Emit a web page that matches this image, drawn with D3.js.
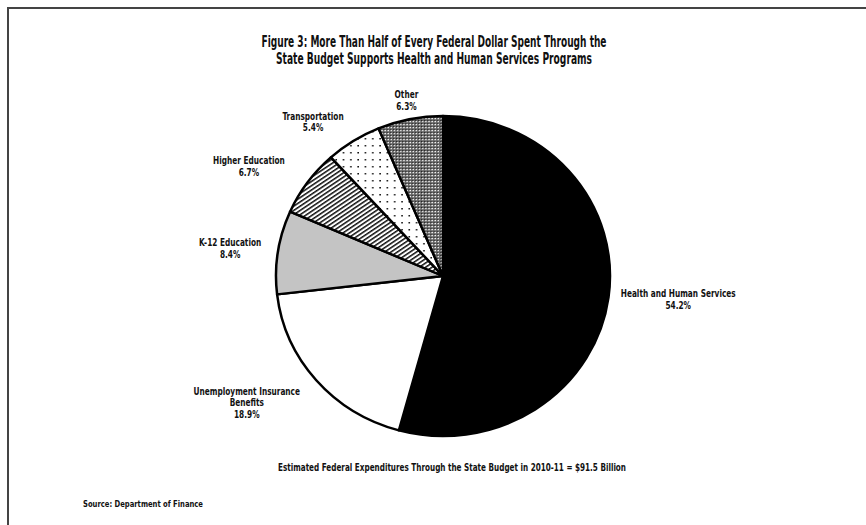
<!doctype html>
<head>
  <style>
    body {
      margin: 0;
      background: #fff;
    }
    svg text {
      font-family: "Liberation Sans Narrow", "DejaVu Sans Condensed", Arial, sans-serif;
      fill: #111;
    }
  </style>
<script src="https://cdnjs.cloudflare.com/ajax/libs/d3/7.8.5/d3.min.js"></script>
</head>
<body>
<script>

// values, clockwise from 12 o'clock
var categories = ["Health and Human Services", "Unemployment Insurance|Benefits", "K-12 Education",
                  "Higher Education", "Transportation", "Other"];
var shares = [54.2, 18.9, 8.4, 6.7, 5.4, 6.3];
var shareLabels = ["54.2%", "18.9%", "8.4%", "6.7%", "5.4%", "6.3%"];

var titleLines = ["Figure 3: More Than Half of Every Federal Dollar Spent Through the",
                  "State Budget Supports Health and Human Services Programs"];
var footNote = "Estimated Federal Expenditures Through the State Budget in 2010-11 = $91.5 Billion";
var sourceNote = "Source: Department of Finance";

var W = 866, H = 525;
var cx = 443, cy = 276, r = 160, stretch = 167 / 160;

var svg = d3.select("body").append("svg")
  .attr("width", W)
  .attr("height", H);

// squeeze text horizontally, the original uses a condensed face
function squeeze(sel, f) {
  sel.each(function() {
    var w = this.getComputedTextLength();
    d3.select(this)
      .attr("textLength", w * f)
      .attr("lengthAdjust", "spacingAndGlyphs");
  });
}

// patterns for the slices
var defs = svg.append("defs");

var hatch = defs.append("pattern")
  .attr("id", "hatch")
  .attr("patternUnits", "userSpaceOnUse")
  .attr("width", 3.5)
  .attr("height", 3.5)
  .attr("patternTransform", "rotate(-35)");
hatch.append("rect").attr("width", 3.5).attr("height", 3.5).attr("fill", "#fff");
hatch.append("rect").attr("width", 3.5).attr("height", 1.5).attr("fill", "#111");

var dots = defs.append("pattern")
  .attr("id", "dots")
  .attr("patternUnits", "userSpaceOnUse")
  .attr("width", 7)
  .attr("height", 7);
dots.append("rect").attr("width", 7).attr("height", 7).attr("fill", "#fff");
dots.append("rect").attr("x", 2).attr("y", 2).attr("width", 1.5).attr("height", 1.5).attr("fill", "#111");

var checker = defs.append("pattern")
  .attr("id", "checker")
  .attr("patternUnits", "userSpaceOnUse")
  .attr("width", 3)
  .attr("height", 3);
checker.append("rect").attr("width", 3).attr("height", 3).attr("fill", "#666");
checker.append("rect").attr("x", 1).attr("y", 1).attr("width", 1.2).attr("height", 1.2).attr("fill", "#fff");
checker.append("rect").attr("x", 0).attr("y", 0).attr("width", 1).attr("height", 1).attr("fill", "#222");

var fills = ["#000", "#fff", "#c4c4c4", "url(#hatch)", "url(#dots)", "url(#checker)"];

// frame
svg.append("path")
  .attr("d", "M8," + H + " L8,8 L" + W + ",8")
  .attr("fill", "none")
  .attr("stroke", "#444")
  .attr("stroke-width", 2);

// title
svg.selectAll(".title")
  .data(titleLines).enter()
  .append("text")
    .attr("class", "title")
    .attr("x", 434)
    .attr("y", function(d, i) { return 47 + i * 17; })
    .attr("text-anchor", "middle")
    .attr("textLength", function(d, i) { return i == 0 ? 345 : 316; })
    .attr("lengthAdjust", "spacingAndGlyphs")
    .style("font-size", "15.5px")
    .style("font-weight", "bold")
    .text(function(d) { return d; });

// pie
var pie = d3.pie().sort(null).value(function(d) { return d; });
var arcs = pie(shares);
var arc = d3.arc().innerRadius(0).outerRadius(r);

var g = svg.append("g")
  .attr("transform", "translate(" + cx + "," + cy + ") scale(" + stretch + ",1)");

g.selectAll(".slice")
  .data(arcs).enter()
  .append("path")
    .attr("class", "slice")
    .attr("d", arc)
    .attr("fill", function(d, i) { return fills[i]; })
    .attr("stroke", "#000")
    .attr("stroke-width", 2.4)
    .attr("stroke-linejoin", "round");

// labels: placed on a ring outside the pie, nudged like the original
var labelR = [238, 225, 213, 215, 200, 178];
var labelNudge = [[-11, -8], [-18, -20], [7, 4], [-12, 16], [-18, 15], [0, -1]];

var labels = svg.selectAll(".lab")
  .data(arcs).enter()
  .append("text")
    .attr("class", "lab")
    .attr("text-anchor", "middle")
    .style("font-size", "10.5px")
    .style("font-weight", "bold")
    .attr("transform", function(d, i) {
      var a = (d.startAngle + d.endAngle) / 2;
      var x = cx + Math.sin(a) * labelR[i] * stretch + labelNudge[i][0];
      var y = cy - Math.cos(a) * labelR[i] + labelNudge[i][1];
      return "translate(" + x + "," + y + ")";
    });

labels.each(function(d, i) {
  var lines = categories[i].split("|").concat([shareLabels[i]]);
  var top = -(lines.length - 1) * 11.5 / 2 + 3.5;
  d3.select(this).selectAll("tspan")
    .data(lines).enter()
    .append("tspan")
      .attr("x", 0)
      .attr("y", function(t, j) { return top + j * 11.5; })
      .text(function(t) { return t; });
});
squeeze(labels.selectAll("tspan"), 0.78);

// footnote and source
svg.append("text")
  .attr("x", 452)
  .attr("y", 471)
  .attr("text-anchor", "middle")
  .attr("textLength", 348)
  .attr("lengthAdjust", "spacingAndGlyphs")
  .style("font-size", "10.5px")
  .style("font-weight", "bold")
  .text(footNote);

svg.append("text")
  .attr("x", 83)
  .attr("y", 507)
  .attr("textLength", 120)
  .attr("lengthAdjust", "spacingAndGlyphs")
  .style("font-size", "8px")
  .style("font-weight", "bold")
  .text(sourceNote);

</script>
</body>
